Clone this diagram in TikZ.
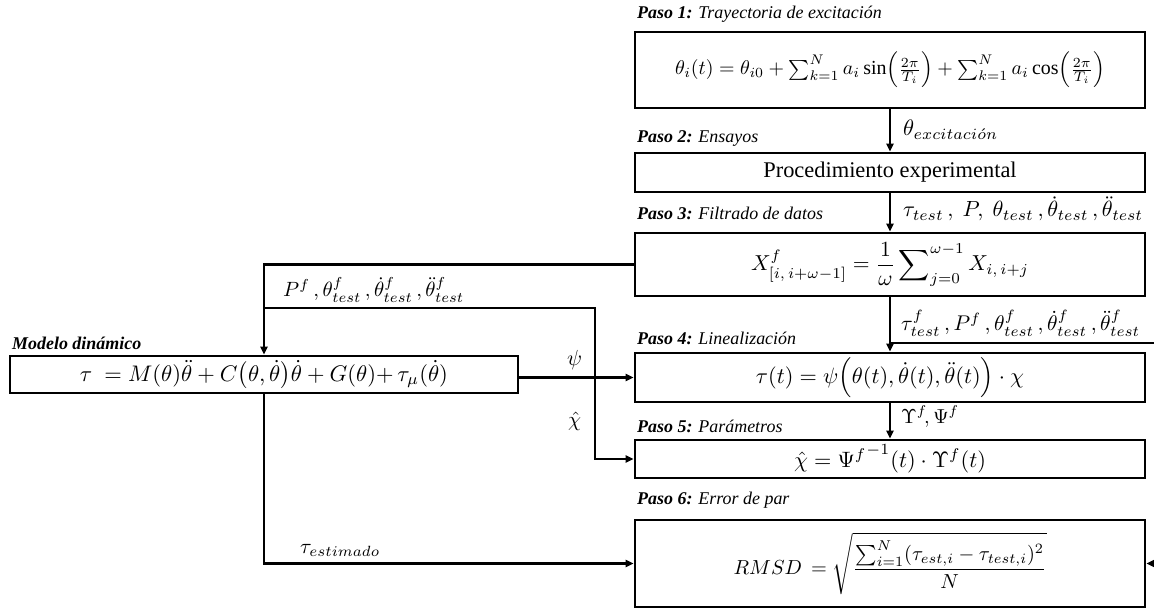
\documentclass[tikz,border=0pt]{standalone}
\usepackage{amsmath}
\usepackage{graphicx}
\usepackage{fontspec}
\setmainfont{Liberation Serif}
\usetikzlibrary{arrows.meta}
\newcommand{\fw}[2]{\resizebox{#1bp}{!}{#2}}
\begin{document}
\begin{tikzpicture}[x=1bp,y=-1bp,
  box/.style={draw, line width=2.7bp, minimum width=510bp, inner sep=0pt, align=center},
  conn/.style={line width=2.3bp},
  arr/.style={conn, -{Triangle[length=8bp,width=7bp]}},
  paso/.style={anchor=base west, font=\fontsize{18}{21}\selectfont\itshape, inner sep=0pt},
  lbl/.style={anchor=base west, inner sep=0pt}
]
\useasboundingbox (0,0) rectangle (1154,612);

% boxes
\node[box, minimum height=76bp] (p1) at (890,70)
  {\fw{430}{$\theta_i(t) = \theta_{i0} + \sum_{k=1}^{N} a_i \sin\!\left(\frac{2\pi}{T_i}\right) + \sum_{k=1}^{N} a_i \cos\!\left(\frac{2\pi}{T_i}\right)$}};
\node[box, minimum height=39bp, font=\fontsize{22.5}{26}\selectfont] (p2) at (890,172.5) {Procedimiento experimental};
\node[box, minimum height=63bp] (p3) at (890,264.5)
  {\fw{278}{$\displaystyle X^{f}_{[i,\,i+\omega-1]} = \frac{1}{\omega}\sum\nolimits_{j=0}^{\omega-1} X_{i,\,i+j}$}};
\node[box, minimum height=49bp] (p4) at (890,377.5)
  {\fw{268}{$\tau(t) = \psi\Big(\theta(t), \dot\theta(t), \ddot\theta(t)\Big)\cdot\chi$}};
\node[box, minimum height=38bp] (p5) at (890,459)
  {\fw{192}{$\hat\chi = {\Psi^{f}}^{-1}(t)\cdot\Upsilon^{f}(t)$}};
\node[box, minimum height=87bp] (p6) at (890,563.5)
  {\fw{313}{$RMSD\, = \sqrt{\dfrac{\sum_{i=1}^{N}(\tau_{est,i}-\tau_{test,i})^2}{N}}$}};
\node[box, minimum width=508bp, minimum height=37bp] (mod) at (264,374.5)
  {\fw{368}{$\tau\ = M(\theta)\ddot\theta + C\big(\theta,\dot\theta\big)\dot\theta + G(\theta){+}\,\tau_\mu(\dot\theta)$}};

% step titles
\node[paso] (t1) at (637,19) {\textbf{Paso 1:} Trayectoria de excitación};
\node[paso] (t2) at (637,143) {\textbf{Paso 2:} Ensayos};
\node[paso] (t3) at (637,220) {\textbf{Paso 3:} Filtrado de datos};
\node[paso] (t4) at (637,345) {\textbf{Paso 4:} Linealización};
\node[paso] (t5) at (637,432) {\textbf{Paso 5:} Parámetros};
\node[paso] (t6) at (637,504) {\textbf{Paso 6:} Error de par};
\node[paso] (tm) at (12,349) {\textbf{Modelo dinámico}};

% helper coordinates
\coordinate (cx) at (890,0);
\coordinate (br) at (890,343);
\coordinate (rx) at (1162,343);
\coordinate (j1) at (264,308);
\coordinate (j2) at (595,308);

% connectors
\draw[arr] (p1.south -| cx) -- (p2.north -| cx);
\draw[arr] (p2.south -| cx) -- (p3.north -| cx);
\draw[arr] (p3.south -| cx) -- (p4.north -| cx);
\draw[conn] (br) -- (rx);
\draw[arr] (rx) -- (rx |- p6.east) -- (p6.east);
\draw[arr] (p4.south -| cx) -- (p5.north -| cx);
\draw[arr] (p3.west) -- (p3.west -| mod.north) -- (mod.north);
\draw[arr] (j1) -- (j2) -- (j2 |- p5.west) -- (p5.west);
\draw[arr] (mod.east |- p4.west) -- (p4.west);
\draw[arr] (mod.south) -- (mod.south |- p6.west) -- (p6.west);

% connector labels
\node[lbl] (l1) at (903,136) {\fw{95}{$\theta_{excitaci\acute{o}n}$}};
\node[lbl] (l2) at (903,217) {\fw{240}{$\tau_{test}\,,\ P,\ \theta_{test}\,,\dot\theta_{test}\,,\ddot\theta_{test}$}};
\node[lbl] (l3) at (901,331) {\fw{239}{$\tau^{f}_{test}\,,P^{f}\,,\theta^{f}_{test}\,,\dot\theta^{f}_{test}\,,\ddot\theta^{f}_{test}$}};
\node[lbl] (l4) at (283,297) {\fw{181}{$P^{f}\,,\theta^{f}_{test}\,,\dot\theta^{f}_{test}\,,\ddot\theta^{f}_{test}$}};
\node[lbl] (l5) at (901,423) {\fw{58}{$\Upsilon^{f}\!, \Psi^{f}$}};
\node[lbl] (l6) at (567,366) {\fw{15}{$\psi$}};
\node[lbl] (l7) at (568,426) {\fw{13}{$\hat\chi$}};
\node[lbl] (l8) at (300,553) {\fw{80}{$\tau_{estimado}$}};
\end{tikzpicture}
\end{document}
